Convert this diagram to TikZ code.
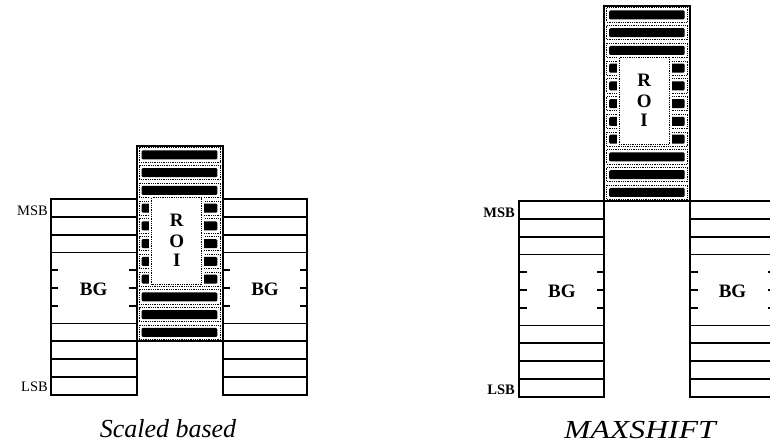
\documentclass[tikz,border=0pt]{standalone}
\usepackage{fontspec}
\setmainfont{Liberation Serif}
\def\p{17.75}
\newcommand\BGbox[4]{% #1 xl, #2 xr, #3 ytop, #4 name
  \foreach \i in {1,2,3,7,8,9,10} \draw[rowline] (#1,#3+\i*\p) -- (#2,#3+\i*\p);
  \foreach \i in {4,5,6} {
    \draw[rowline] (#1,#3+\i*\p) -- ++(7.5,0);
    \draw[rowline] (#2,#3+\i*\p) -- ++(-7.5,0);
  }
  \draw[boxline] (#1,#3) rectangle (#2,#3+11*\p);
  \node[bgtext] (#4) at ({(#1+#2)/2},#3+5*\p+1.5) {BG};
}
\newcommand\ROIcol[4]{% #1 xl, #2 xr, #3 ytop, #4 name suffix
  \foreach \i in {0,...,10} {
    \draw[cellframe] (#1+2.4,#3+\i*\p+1.7) rectangle (#2-2.4,#3+\i*\p+\p-1.7);
    \fill[cellbar] (#1+4.8,#3+\i*\p+4.4) rectangle (#2-5.3,#3+\i*\p+\p-4.4);
  }
  \fill[white] (#1+12.5,#3+3*\p-2.8) rectangle (#2-18.5,#3+8*\p-2.5);
  \draw[roiframe] (#1+15,#3+3*\p-1.5) rectangle (#2-21,#3+8*\p-3.5);
  \node[roitext] (R#4) at ({(#1+#2)/2-3},#3+5.5*\p-23) {R};
  \node[roitext] (O#4) at ({(#1+#2)/2-3},#3+5.5*\p-2.5) {O};
  \node[roitext] (I#4) at ({(#1+#2)/2-3},#3+5.5*\p+17) {I};
  \draw[boxline] (#1,#3) rectangle (#2,#3+11*\p);
}
\begin{document}
\begin{tikzpicture}[x=1pt,y=-1pt,
  boxline/.style={line width=2pt},
  rowline/.style={line width=1.8pt},
  cellframe/.style={densely dotted, line width=0.8pt},
  cellbar/.style={fill=black, rounded corners=1.2pt},
  roiframe/.style={densely dotted, line width=0.8pt},
  roitext/.style={font=\fontsize{19}{19}\selectfont\bfseries, inner sep=0pt},
  bgtext/.style={font=\fontsize{19}{19}\selectfont\bfseries, inner sep=0pt},
  lblL/.style={font=\fontsize{14.5}{14.5}\selectfont, inner sep=0pt, anchor=east},
  lblR/.style={font=\fontsize{14.5}{14.5}\selectfont\bfseries, inner sep=0pt, anchor=east},
  caption/.style={font=\fontsize{26}{26}\selectfont\itshape, inner sep=0pt, anchor=base}]
\useasboundingbox (0,0) rectangle (770,447);
\begin{scope}
\clip (0,0) rectangle (770,447);
% ---------- left figure: scaled based ----------
\BGbox{50.7}{136.7}{199.3}{bgLL}
\BGbox{222.7}{307.3}{199.3}{bgLR}
\ROIcol{136.7}{222.7}{146.05}{L}
\node[lblL] (msbL) at (48,199.3+0.5*\p+2.5) {MSB};
\node[lblL] (lsbL) at (48,199.3+10.5*\p+1.5) {LSB};
\node[caption] (capL) at (168,437.5) {Scaled based};
% ---------- right figure: MAXSHIFT ----------
\BGbox{519.3}{604.3}{201.3}{bgRL}
\BGbox{690}{775}{201.3}{bgRR}
\ROIcol{604.3}{690}{6.05}{R}
\node[lblR] (msbR) at (515,201.3+0.5*\p+2.5) {MSB};
\node[lblR] (lsbR) at (515,201.3+10.5*\p+2) {LSB};
\node[caption] (capR) at (640,438) {\scalebox{1.22}[1]{MAXSHIFT}};
\end{scope}
\end{tikzpicture}
\end{document}
